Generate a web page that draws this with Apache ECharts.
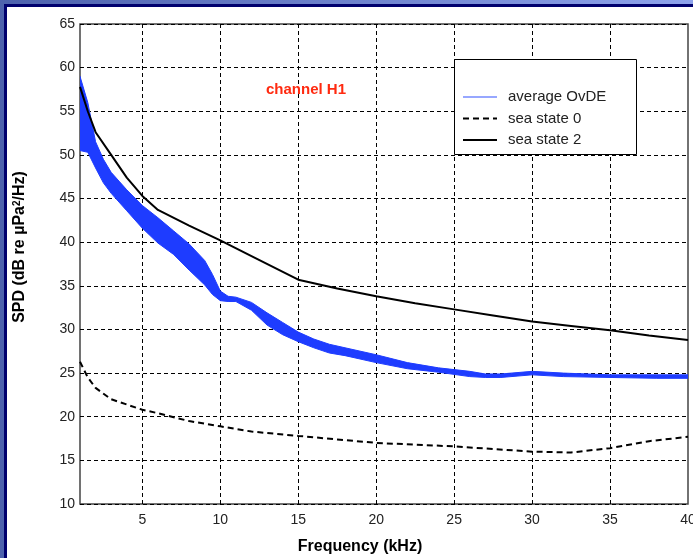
<!DOCTYPE html>
<html>
<head>
<meta charset="utf-8">
<script src="https://cdn.jsdelivr.net/npm/echarts@6/dist/echarts.min.js"></script>
<style>
html,body{margin:0;padding:0;}
body{width:693px;height:558px;overflow:hidden;position:relative;background:linear-gradient(to right,#4d62ad,#8ea3ec);}
#frame{position:absolute;left:4px;top:4px;right:0;bottom:0;border-top:3px solid #00006e;border-left:3px solid #00006e;background:#fff;}
#main{position:absolute;left:0;top:0;width:693px;height:558px;}
</style>
</head>
<body>
<div id="frame"></div>
<div id="main"></div>
<script type="text/javascript">
// frequency (kHz) for the OvDE band
var freqBand = [1, 1.5, 2, 2.5, 3, 3.5, 4, 5, 6, 7, 8, 9, 9.5, 10, 10.5, 11, 12, 13, 14, 15, 16, 17, 18, 20, 22, 24, 26, 27, 28, 30, 32, 35, 38, 40];
// top and bottom edge of the blue average OvDE band
var ovdeUpper = [59, 56, 51.5, 49.5, 48.0, 47.0, 46.0, 44.2, 42.8, 41.3, 39.8, 37.9, 36.3, 34.4, 33.8, 33.7, 33.1, 31.9, 30.8, 29.7, 28.9, 28.3, 27.9, 27.1, 26.2, 25.6, 25.2, 24.9, 24.9, 25.2, 25.0, 24.8, 24.8, 24.8];
var ovdeLower = [50.5, 50.3, 48.5, 46.8, 45.6, 44.6, 43.6, 41.6, 39.9, 38.6, 36.8, 35.1, 34.0, 33.3, 33.2, 33.2, 32.2, 30.5, 29.4, 28.6, 27.9, 27.3, 27.0, 26.2, 25.5, 25.1, 24.6, 24.5, 24.5, 24.8, 24.6, 24.5, 24.4, 24.4];
// sea state curves
var freqSea = [1, 1.5, 2, 3, 4, 5, 6, 8, 10, 12, 15, 17.5, 20, 22.5, 25, 27.5, 30, 32.5, 35, 37.5, 40];
var seaState0 = [26.3, 24.5, 23.3, 22.0, 21.4, 20.8, 20.4, 19.5, 18.9, 18.3, 17.8, 17.4, 17.0, 16.8, 16.6, 16.3, 16.0, 15.9, 16.4, 17.2, 17.7];
var seaState2 = [57.8, 55.0, 52.6, 50.0, 47.4, 45.3, 43.7, 41.9, 40.2, 38.4, 35.7, 34.7, 33.8, 33.0, 32.3, 31.6, 30.9, 30.4, 29.9, 29.3, 28.8];
// tick labels
var xTicks = [5, 10, 15, 20, 25, 30, 35, 40];
var xGrid = [5, 10, 15, 20, 25, 30, 35];
var legendNames = ['average OvDE', 'sea state 0', 'sea state 2'];

var blue = '#1e3cff';
var font = 'Liberation Sans, Arial, sans-serif';

function pairs(xs, ys){
	return xs.map(function(x, i){ return [x, ys[i]]; });
}

// band polygon: upper edge left to right, lower edge back
function renderBand(params, api){
	if (params.dataIndex !== 0) return;
	var pts = [];
	for (var i = 0; i < freqBand.length; i++) pts.push(api.coord([freqBand[i], ovdeUpper[i]]));
	for (var j = freqBand.length - 1; j >= 0; j--) pts.push(api.coord([freqBand[j], ovdeLower[j]]));
	return {
		type: 'polygon',
		shape: {points: pts},
		style: {fill: blue, stroke: blue, lineWidth: 1}
	};
}

// legend drawn by hand (MATLAB style box)
var lgX = 463, lgY = [97, 118.5, 140];
var legendGraphics = [
	{type: 'rect', z: 15, shape: {x: 454.5, y: 59.5, width: 182, height: 95}, style: {fill: '#fff', stroke: '#000', lineWidth: 1}},
	{type: 'line', z: 16, shape: {x1: lgX, y1: lgY[0], x2: lgX + 34, y2: lgY[0]}, style: {stroke: '#3050ff', lineWidth: 1.2}},
	{type: 'line', z: 16, shape: {x1: lgX, y1: lgY[1], x2: lgX + 34, y2: lgY[1]}, style: {stroke: '#000', lineWidth: 2, lineDash: [6, 4]}},
	{type: 'line', z: 16, shape: {x1: lgX, y1: lgY[2], x2: lgX + 34, y2: lgY[2]}, style: {stroke: '#000', lineWidth: 2}}
];
legendNames.forEach(function(n, i){
	legendGraphics.push({type: 'text', z: 16, x: 508, y: lgY[i], style: {text: n, fill: '#222', font: '15px ' + font, verticalAlign: 'middle'}});
});

var myChart = echarts.init(document.getElementById('main'), null, {renderer: 'canvas'});
var option = {
	backgroundColor: 'transparent',
	animation: false,
	grid: {
		left: 80, top: 24, right: 5, bottom: 54,
		show: true, borderColor: '#444', borderWidth: 1.5,
		outerBoundsMode: 'none'
	},
	xAxis: {
		type: 'value', min: 1, max: 40,
		axisLine: {show: false},
		axisTick: {show: false, customValues: xGrid},
		axisLabel: {customValues: xTicks, color: '#222', fontSize: 14, fontFamily: font, margin: 9},
		splitLine: {show: true, lineStyle: {color: '#000', width: 1, type: [4, 3]}}
	},
	yAxis: {
		type: 'value', min: 10, max: 65, interval: 5,
		axisLine: {show: false},
		axisTick: {show: false},
		axisLabel: {color: '#222', fontSize: 14, fontFamily: font, margin: 5},
		splitLine: {show: true, lineStyle: {color: '#000', width: 1, type: [4, 3]}}
	},
	graphic: legendGraphics.concat([
		{type: 'text', z: 16, x: 306, y: 90, style: {text: 'channel H1', fill: '#ff2a10', font: 'bold 15px ' + font, align: 'center', verticalAlign: 'middle'}},
		{type: 'text', z: 16, x: 360, y: 547, style: {text: 'Frequency (kHz)', fill: '#000', font: 'bold 16px ' + font, align: 'center', verticalAlign: 'middle'}},
		{type: 'text', z: 16, x: 20, y: 247, rotation: Math.PI / 2,
			style: {text: 'SPD (dB re \u00b5Pa{sup|2}/Hz)', fill: '#000', font: 'bold 16px ' + font, align: 'center', verticalAlign: 'middle',
				rich: {sup: {fontSize: 10, fontWeight: 'bold', fontFamily: font, verticalAlign: 'top', padding: [0, 0, 6, 0]}}}}
	]),
	series: [
		{
			name: 'average OvDE', type: 'custom', renderItem: renderBand,
			data: pairs(freqBand, ovdeUpper),
			encode: {x: 0, y: 1},
			clip: true, z: 3
		},
		{
			name: 'sea state 0', type: 'line', symbol: 'none',
			data: pairs(freqSea, seaState0),
			itemStyle: {color: '#000'},
			lineStyle: {color: '#000', width: 2, type: [6, 4]}, z: 4
		},
		{
			name: 'sea state 2', type: 'line', symbol: 'none',
			data: pairs(freqSea, seaState2),
			itemStyle: {color: '#000'},
			lineStyle: {color: '#000', width: 2}, z: 4
		}
	]
};
myChart.setOption(option);
</script>
</body>
</html>
